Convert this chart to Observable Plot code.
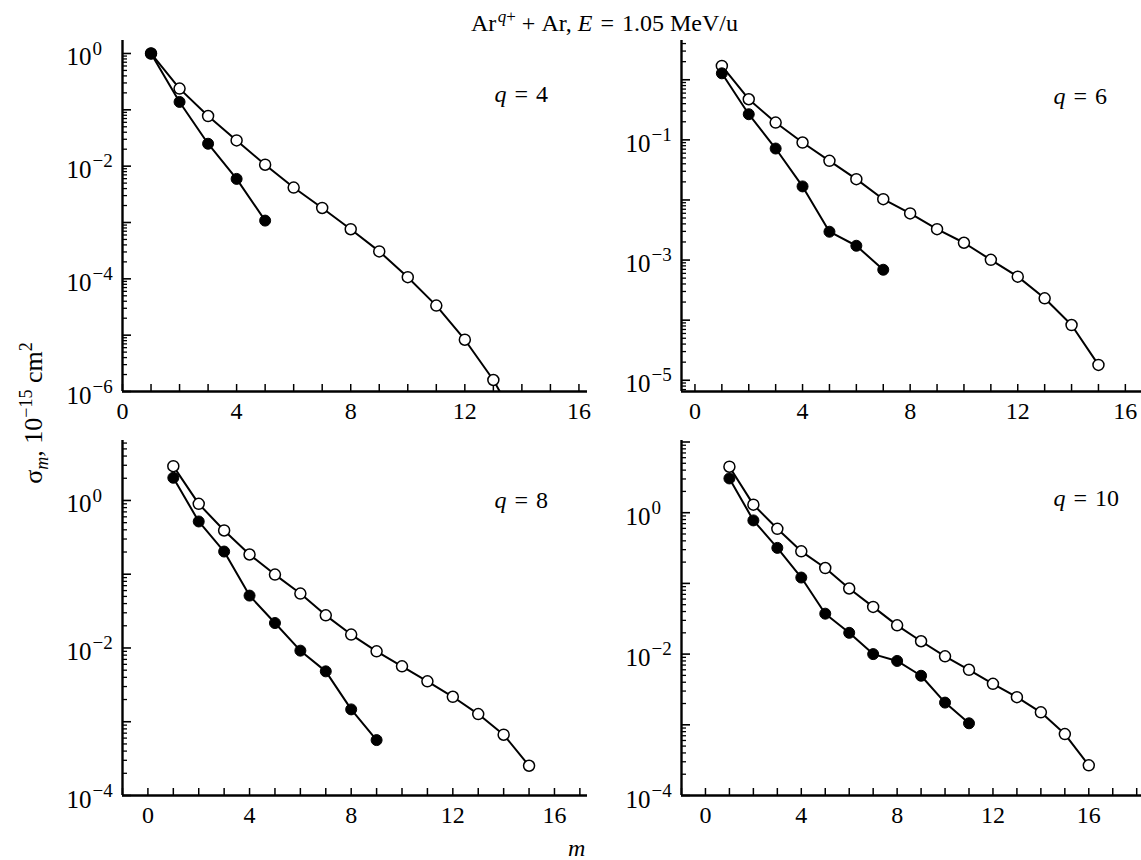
<!DOCTYPE html>
<html><head><meta charset="utf-8">
<script src="https://cdn.jsdelivr.net/npm/d3@7"></script>
<script src="https://cdn.jsdelivr.net/npm/@observablehq/plot@0.6"></script>
<style>
body{margin:0;background:#fff;}
#root{position:relative;width:1141px;height:860px;background:#fff;font-family:"Liberation Serif","Times New Roman",serif;color:#000;overflow:hidden;}
#root svg, #root svg text{font-family:"Liberation Serif","Times New Roman",serif !important;}
.abs{position:absolute;white-space:nowrap;}
sup,sub{line-height:0;}
</style></head><body><div id="root"></div>
<script>
// ---- data: q = 4 ----
const m4Open = [1,2,3,4,5,6,7,8,9,10,11,12,13,14];
const s4Open = [1.0,0.238,0.0776,0.0286,0.0106,0.00417,0.00181,7.6e-4,3.07e-4,1.07e-4,3.35e-5,8.3e-6,1.6e-6,2.0e-7];
const m4Filled = [1,2,3,4,5];
const s4Filled = [1.0,0.138,0.025,0.00594,0.00108];
// ---- data: q = 6 ----
const m6Open = [1,2,3,4,5,6,7,8,9,10,11,12,13,14,15];
const s6Open = [1.70,0.474,0.194,0.0903,0.0448,0.0222,0.0103,0.00597,0.00327,0.00194,0.00101,5.3e-4,2.31e-4,8.3e-5,1.8e-5];
const m6Filled = [1,2,3,4,5,6,7];
const s6Filled = [1.28,0.267,0.0717,0.0168,0.00296,0.00173,6.9e-4];
// ---- data: q = 8 ----
const m8Open = [1,2,3,4,5,6,7,8,9,10,11,12,13,14,15];
const s8Open = [2.92,0.90,0.392,0.185,0.0989,0.0547,0.0277,0.0152,0.0090,0.00564,0.00353,0.00218,0.00127,6.67e-4,2.53e-4];
const m8Filled = [1,2,3,4,5,6,7,8,9];
const s8Filled = [2.03,0.519,0.203,0.0513,0.0218,0.0092,0.00482,0.00147,5.64e-4];
// ---- data: q = 10 ----
const m10Open = [1,2,3,4,5,6,7,8,9,10,11,12,13,14,15,16];
const s10Open = [4.47,1.30,0.592,0.284,0.165,0.0847,0.0465,0.0255,0.0152,0.0093,0.0060,0.0038,0.00246,0.0015,7.4e-4,2.67e-4];
const m10Filled = [1,2,3,4,5,6,7,8,9,10,11];
const s10Filled = [3.05,0.778,0.318,0.121,0.0373,0.020,0.010,0.0080,0.00494,0.00206,0.00105];
// ---- axis tick labels ----
const xTickLabels = [0,4,8,12,16];
const yLabelExp4 = [0,-2,-4,-6];
const yLabelExp6 = [-1,-3,-5];
const yLabelExp8 = [0,-2,-4];
const yLabelExp10 = [0,-2,-4];

// ---- layout (pixels) ----
const panels = [
  {q:"4",  mO:m4Open,  sO:s4Open,  mF:m4Filled,  sF:s4Filled,  xd:[0,16.3],   yd:[1e-6,1.7],   exps:yLabelExp4,  box:[122,587,40,391], qdy:44},
  {q:"6",  mO:m6Open,  sO:s6Open,  mF:m6Filled,  sF:s6Filled,  xd:[-0.5,16.6], yd:[6.5e-6,4.5], exps:yLabelExp6,  box:[681,1141,40,391], qdy:46},
  {q:"8",  mO:m8Open,  sO:s8Open,  mF:m8Filled,  sF:s8Filled,  xd:[-1.0,17.3], yd:[1e-4,6.5],   exps:yLabelExp8,  box:[122,587,440,795], qdy:50},
  {q:"10", mO:m10Open, sO:s10Open, mF:m10Filled, sF:s10Filled, xd:[-1.0,18.2], yd:[1e-4,10.5],  exps:yLabelExp10, box:[681,1141,440,795], qdy:48}
];
const ML=64, MR=4, MT=14, MB=46;
const FONT = "Liberation Serif";
const root = document.getElementById("root");

function makePanel(p){
  const [x0,x1,y0,y1] = p.box;
  const fw = x1-x0, fh = y1-y0;
  const openData = p.mO.map((m,i)=>({m, s:p.sO[i]}));
  const filledData = p.mF.map((m,i)=>({m, s:p.sF[i]}));
  const [lo,hi] = p.yd;
  const major=[], minor=[];
  for(let e=Math.floor(Math.log10(lo)); e<=Math.ceil(Math.log10(hi)); e++){
    for(let k=1;k<10;k++){
      const v = k*Math.pow(10,e);
      if(v>=lo*0.999 && v<=hi*1.001) (k===1?major:minor).push(v);
    }
  }
  const xt = d3.range(Math.ceil(p.xd[0]), Math.floor(p.xd[1])+1);
  const labelVals = p.exps.map(e=>Math.pow(10,e));
  const mr = (x1>=1141)?0:MR;
  const txt = {fill:"#000", fontFamily:FONT};
  const chart = Plot.plot({
    width: fw+ML+mr, height: fh+MT+MB,
    marginLeft: ML, marginRight: mr, marginTop: MT, marginBottom: MB,
    x:{domain:p.xd, axis:null},
    y:{type:"log", domain:p.yd, axis:null},
    style:{background:"transparent", color:"#000"},
    marks:[
      Plot.tickY(minor, {y:d=>d, insetRight:fw-5, stroke:"#000", strokeWidth:1.3}),
      Plot.tickY(major, {y:d=>d, insetRight:fw-9, stroke:"#000", strokeWidth:1.6}),
      Plot.tickX(xt, {x:d=>d, insetTop:fh-7, stroke:"#000", strokeWidth:1.5}),
      Plot.ruleX([p.xd[0]], {stroke:"#000", strokeWidth:2.4}),
      Plot.ruleY([lo], {stroke:"#000", strokeWidth:2.4}),
      Plot.line(openData, {x:"m", y:"s", stroke:"#000", strokeWidth:2, clip:true}),
      Plot.line(filledData, {x:"m", y:"s", stroke:"#000", strokeWidth:2, clip:true}),
      Plot.dot(openData, {x:"m", y:"s", r:5.5, fill:"#fff", stroke:"#000", strokeWidth:1.5, clip:true}),
      Plot.dot(filledData, {x:"m", y:"s", r:5.5, fill:"#000", stroke:"#000", strokeWidth:1, clip:true}),
      Plot.text(xTickLabels, {x:d=>d, frameAnchor:"bottom", dy:27, text:d=>String(d), fontSize:24, ...txt}),
      Plot.text(labelVals, {y:d=>d, frameAnchor:"left", dx:-56, dy:4, textAnchor:"start", text:()=>"10", fontSize:25, ...txt}),
      Plot.text(p.exps, {y:d=>Math.pow(10,d), frameAnchor:"left", dx:-30, dy:-5, textAnchor:"start", text:d=>d===0?"0":"\u2212"+Math.abs(d), fontSize:19, ...txt}),
      Plot.text([p.q], {frameAnchor:"top-left", dx:372, dy:p.qdy, textAnchor:"start", text:()=>"q", fontStyle:"italic", fontSize:24, ...txt}),
      Plot.text([p.q], {frameAnchor:"top-left", dx:384, dy:p.qdy, textAnchor:"start", text:d=>"\u2004=\u2004"+d, fontSize:24, ...txt})
    ]
  });
  chart.style.position="absolute";
  chart.style.left=(x0-ML)+"px";
  chart.style.top=(y0-MT)+"px";
  root.appendChild(chart);
}
panels.forEach(makePanel);

// title
const t = document.createElement("div");
t.className="abs";
t.style.cssText="left:471px;top:11px;font-size:24px;line-height:24px;";
t.innerHTML = `Ar<sup style="font-size:17px;">&#8202;<i>q</i>+</sup>&#8197;+&#8197;Ar, <i>E</i>&#8196;=&#8196;1.05 MeV/u`;
root.appendChild(t);

// y label
const yl = document.createElement("div");
yl.className="abs";
yl.style.cssText="left:34px;top:413px;font-size:26px;line-height:26px;transform:translate(-50%,-50%) rotate(-90deg);";
yl.innerHTML = `σ<sub style="font-size:18px;"><i>m</i></sub>, 10<sup style="font-size:18px;">\u221215</sup> cm<sup style="font-size:18px;">2</sup>`;
root.appendChild(yl);

// x label
const xl = document.createElement("div");
xl.className="abs";
xl.style.cssText="left:568px;top:836px;font-size:24px;line-height:24px;font-style:italic;";
xl.textContent="m";
root.appendChild(xl);
</script>
</body></html>
